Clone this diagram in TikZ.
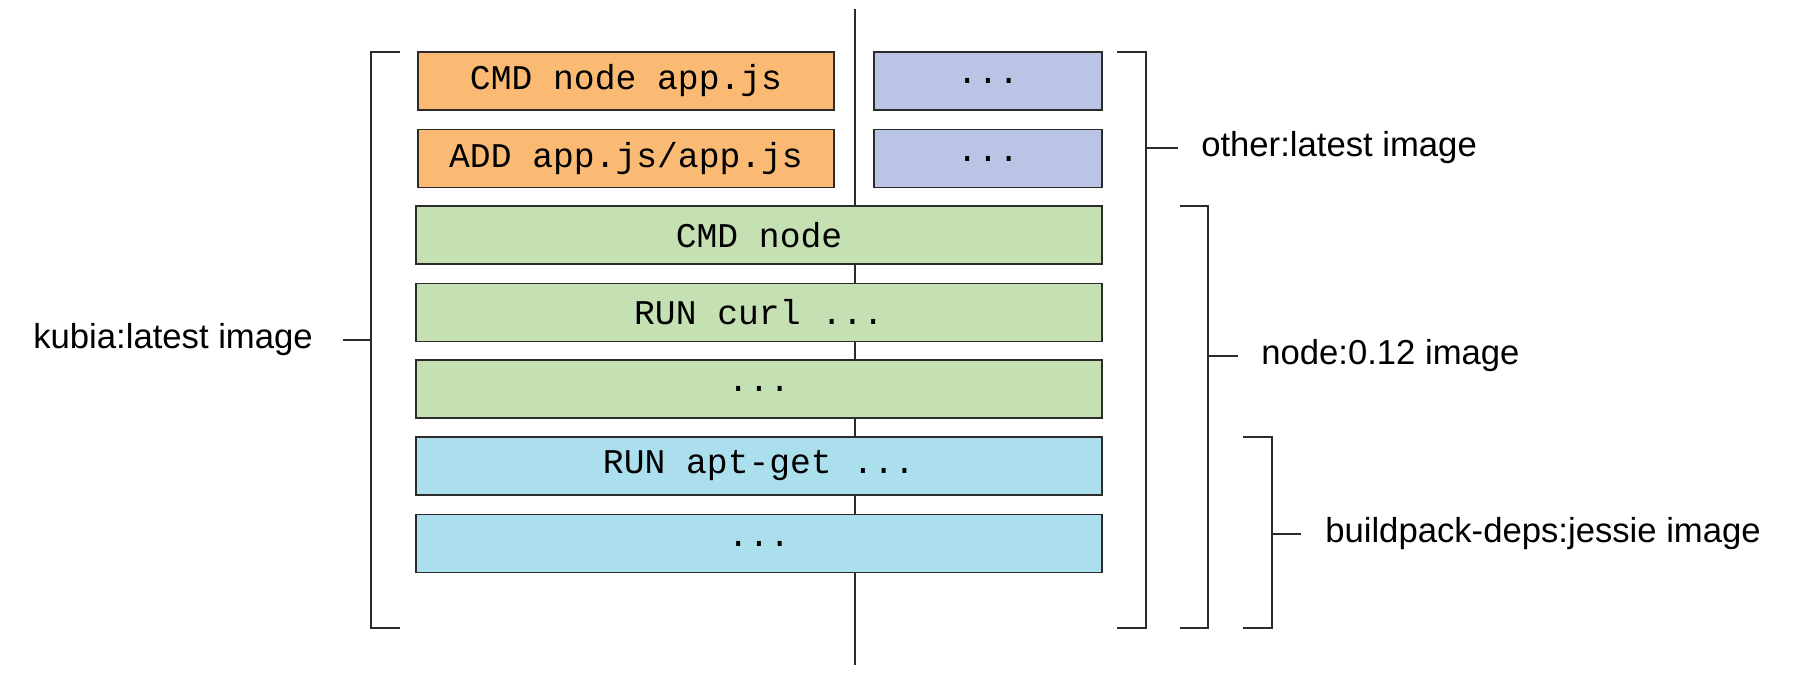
\documentclass[tikz,border=0pt]{standalone}
\usepackage{fontspec}
\setmainfont{Liberation Sans}
\setmonofont{Liberation Mono}
\definecolor{apporange}{HTML}{FBBA74}
\definecolor{otherblue}{HTML}{BAC4E4}
\definecolor{nodegreen}{HTML}{C5E0B3}
\definecolor{depscyan}{HTML}{ACDFEE}
\definecolor{edgegray}{HTML}{2B2B2B}
\tikzset{
  layer/.style={draw=edgegray, line width=1.4pt, minimum height=43.5pt, inner sep=0pt,
    font=\fontsize{26}{30}\selectfont\ttfamily},
  wide/.style={layer, minimum width=514.5pt},
  half/.style={layer, minimum width=312pt},
  narrow/.style={layer, minimum width=171pt},
  bracket/.style={draw=edgegray, line width=1.6pt},
  imglabel/.style={inner sep=0pt, font=\fontsize{26}{30}\selectfont}
}
\begin{document}
\begin{tikzpicture}[x=0.75pt, y=-0.75pt]
                \useasboundingbox (0,0) rectangle (1797,687);

                % shared base line
                \coordinate (top) at (855,9);
                \coordinate (bottom) at (855,665);
                \draw[edgegray, line width=1.1pt] (top) -- (bottom);

                % layers
                \node[half, fill=apporange] (cmdapp) at (626,81) {CMD node app.js};
                \node[half, fill=apporange] (addapp) at (626,158.5) {ADD app.js/app.js};
                \node[narrow, fill=otherblue] (other1) at (988,81) {...};
                \node[narrow, fill=otherblue] (other2) at (988,158.5) {...};
                \node[wide, fill=nodegreen] (cmdnode) at (759,235) {CMD node};
                \node[wide, fill=nodegreen] (runcurl) at (759,312.5) {RUN curl ...};
                \node[wide, fill=nodegreen] (nodedots) at (759,389) {...};
                \node[wide, fill=depscyan] (aptget) at (759,466) {RUN apt-get ...};
                \node[wide, fill=depscyan] (depsdots) at (759,543.5) {...};

                % kubia:latest
                \draw[bracket] (400,52) -- (371,52) -- (371,628) -- (400,628);
                \coordinate (kubiamid) at (371,340);
                \coordinate (kubiatick) at (343,340);
                \draw[bracket] (kubiamid) -- (kubiatick);
                \node[imglabel, anchor=east] (kubia) at (313,340) {kubia:latest image};

                % other:latest
                \draw[bracket] (1117,52) -- (1146,52) -- (1146,628) -- (1117,628);
                \coordinate (othermid) at (1146,148);
                \coordinate (othertick) at (1178,148);
                \draw[bracket] (othermid) -- (othertick);
                \node[imglabel, anchor=west] (otherimg) at (1201,148) {other:latest image};

                % node:0.12
                \draw[bracket] (1180,206) -- (1208,206) -- (1208,628) -- (1180,628);
                \coordinate (nodemid) at (1208,356);
                \coordinate (nodetick) at (1238,356);
                \draw[bracket] (nodemid) -- (nodetick);
                \node[imglabel, anchor=west] (nodeimg) at (1261,356) {node:0.12 image};

                % buildpack-deps:jessie
                \draw[bracket] (1243,437) -- (1272,437) -- (1272,628) -- (1243,628);
                \coordinate (depsmid) at (1272,534);
                \coordinate (depstick) at (1301,534);
                \draw[bracket] (depsmid) -- (depstick);
                \node[imglabel, anchor=west] (depsimg) at (1325,534) {buildpack-deps:jessie image};
            \end{tikzpicture}
\end{document}
